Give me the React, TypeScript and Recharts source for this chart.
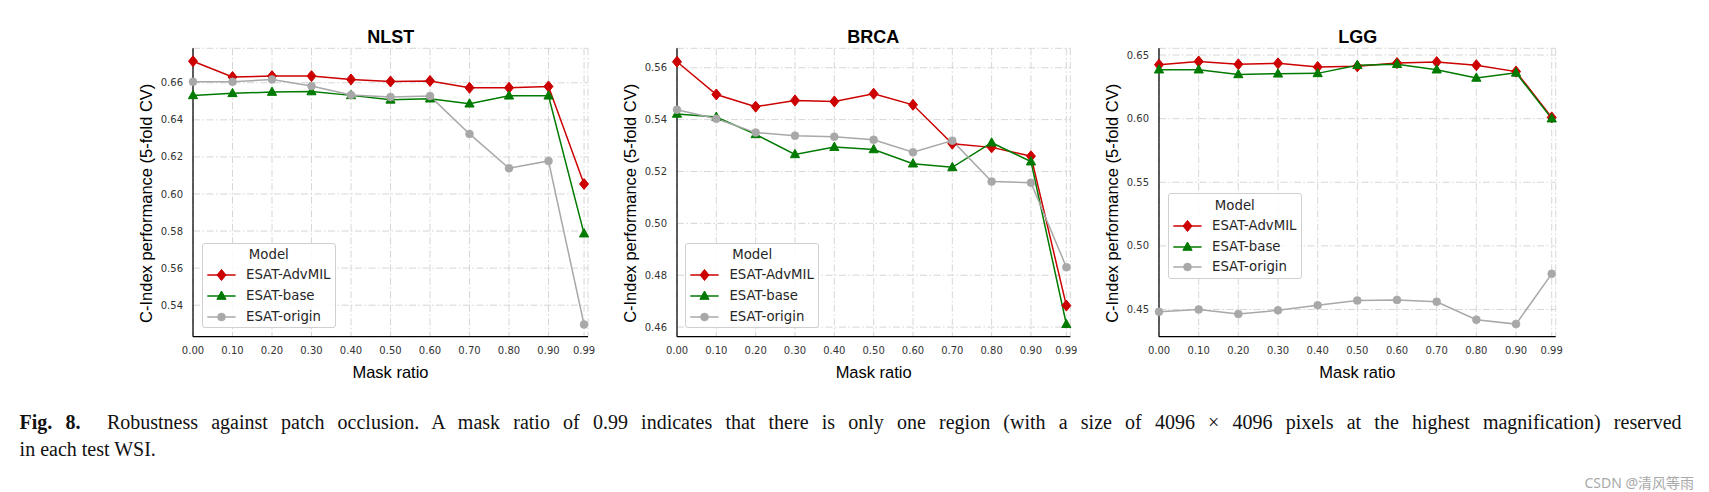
import { LineChart, Line, XAxis, YAxis, CartesianGrid } from 'recharts';

const MASK_RATIOS = [0, 0.1, 0.2, 0.3, 0.4, 0.5, 0.6, 0.7, 0.8, 0.9, 0.99];

const NLST_ADVMIL = [0.6716, 0.6631, 0.6636, 0.6636, 0.6618, 0.6607, 0.661, 0.6573, 0.6573, 0.658, 0.6054];
const NLST_BASE = [0.6532, 0.6543, 0.655, 0.6553, 0.6532, 0.6508, 0.6514, 0.6487, 0.653, 0.653, 0.5786];
const NLST_ORIGIN = [0.6605, 0.6605, 0.6618, 0.6582, 0.6534, 0.6523, 0.6528, 0.6324, 0.6139, 0.6178, 0.5296];
const NLST_TICKS = [0.54, 0.56, 0.58, 0.6, 0.62, 0.64, 0.66];

const BRCA_ADVMIL = [0.5623, 0.5497, 0.545, 0.5474, 0.547, 0.55, 0.5457, 0.5307, 0.5293, 0.5259, 0.4683];
const BRCA_BASE = [0.5422, 0.541, 0.5343, 0.5266, 0.5294, 0.5285, 0.523, 0.5216, 0.5311, 0.5238, 0.4611];
const BRCA_ORIGIN = [0.5438, 0.5403, 0.535, 0.5338, 0.5334, 0.5322, 0.5274, 0.5319, 0.5161, 0.5157, 0.4831];
const BRCA_TICKS = [0.46, 0.48, 0.5, 0.52, 0.54, 0.56];

const LGG_ADVMIL = [0.6424, 0.645, 0.6427, 0.6435, 0.6406, 0.6411, 0.6437, 0.6445, 0.642, 0.637, 0.601];
const LGG_BASE = [0.6385, 0.6385, 0.6348, 0.6353, 0.6356, 0.642, 0.6428, 0.6385, 0.632, 0.636, 0.6];
const LGG_ORIGIN = [0.4482, 0.45, 0.4464, 0.4493, 0.4533, 0.457, 0.4575, 0.4561, 0.442, 0.4385, 0.478];
const LGG_TICKS = [0.45, 0.5, 0.55, 0.6, 0.65];

const SERIES = [
  { key: 'advmil', name: 'ESAT-AdvMIL', color: '#cc0000', marker: 'diamond' },
  { key: 'base', name: 'ESAT-base', color: '#007a00', marker: 'triangle' },
  { key: 'origin', name: 'ESAT-origin', color: '#a8a8a8', marker: 'circle' },
];

const PANELS = [
  { title: 'NLST', plotLeft: 193.3, plotWidth: 395, domain: [0.523, 0.6786], ticks: NLST_TICKS, legendTop: 242.7,
    advmil: NLST_ADVMIL, base: NLST_BASE, origin: NLST_ORIGIN },
  { title: 'BRCA', plotLeft: 676.7, plotWidth: 393.3, domain: [0.4563, 0.5675], ticks: BRCA_TICKS, legendTop: 242.7,
    advmil: BRCA_ADVMIL, base: BRCA_BASE, origin: BRCA_ORIGIN },
  { title: 'LGG', plotLeft: 1159.3, plotWidth: 396.7, domain: [0.4286, 0.6553], ticks: LGG_TICKS, legendTop: 193.3,
    advmil: LGG_ADVMIL, base: LGG_BASE, origin: LGG_ORIGIN },
];

const PLOT_TOP = 48.3;
const PLOT_BOTTOM = 336.7;
const CHART_H = 400;
const PAD_L = 100;
const PAD_R = 10;
const Y_AXIS_W = 60;
const X_AXIS_H = 30;
const SANS = 'Liberation Sans, Arial, sans-serif';
const TICK_FONT = 'DejaVu Sans, sans-serif';

function Marker({ type, cx, cy, color }) {
  if (type === 'diamond') {
    return <path d={`M${cx},${cy - 5.5}L${cx + 4.5},${cy}L${cx},${cy + 5.5}L${cx - 4.5},${cy}Z`} fill={color} stroke={color} strokeWidth={1} />;
  }
  if (type === 'triangle') {
    return <path d={`M${cx},${cy - 5}L${cx + 4.6},${cy + 3.3}L${cx - 4.6},${cy + 3.3}Z`} fill={color} stroke={color} strokeWidth={1} />;
  }
  return <circle cx={cx} cy={cy} r={4} fill={color} stroke={color} strokeWidth={0.5} />;
}

function Legend({ left, top }) {
  return (
    <div style={{ position: 'absolute', left, top, width: 134.3, height: 85.6, boxSizing: 'border-box',
      border: '1px solid #d0d0d0', borderRadius: 3, background: 'rgba(255,255,255,0.85)',
      fontFamily: TICK_FONT, fontSize: 13.3, color: '#262626' }}>
      <div style={{ position: 'absolute', left: 0, width: '100%', top: 11.3 - 9, lineHeight: '18px', textAlign: 'center' }}>Model</div>
      {SERIES.map((s, i) => (
        <div key={s.key} style={{ position: 'absolute', left: 0, top: 31.6 + i * 20.7 - 9, height: 18, width: '100%' }}>
          <svg width={40} height={18} style={{ position: 'absolute', left: 0, top: 0 }}>
            <line x1={4.3} x2={32.6} y1={9} y2={9} stroke={s.color} strokeWidth={1.5} />
            <Marker type={s.marker} cx={18.5} cy={9} color={s.color} />
          </svg>
          <span style={{ position: 'absolute', left: 43.3, top: 0, lineHeight: '18px' }}>{s.name}</span>
        </div>
      ))}
    </div>
  );
}

function Panel({ p }) {
  const data = MASK_RATIOS.map((x, i) => ({ x, advmil: p.advmil[i], base: p.base[i], origin: p.origin[i] }));
  const chartLeft = p.plotLeft - PAD_L;
  const width = PAD_L + p.plotWidth + PAD_R;
  return (
    <div style={{ position: 'absolute', left: chartLeft, top: 0, width, height: CHART_H }}>
      <LineChart
        width={width}
        height={CHART_H}
        data={data}
        margin={{ top: PLOT_TOP, right: PAD_R, left: PAD_L - Y_AXIS_W, bottom: CHART_H - PLOT_BOTTOM - X_AXIS_H }}
      >
        <CartesianGrid stroke="#d6d6d6" strokeWidth={1} strokeDasharray="7 2.5 1.5 2.5" />
        <XAxis
          type="number"
          dataKey="x"
          domain={[0, 1]}
          ticks={MASK_RATIOS}
          interval={0}
          height={X_AXIS_H}
          tickFormatter={(v) => v.toFixed(2)}
          tickLine={false}
          tickSize={0}
          tickMargin={10}
          axisLine={{ stroke: '#000', strokeWidth: 1.25 }}
          tick={{ fontSize: 10, fill: '#333', fontFamily: TICK_FONT }}
          label={() => (
            <text x={PAD_L + p.plotWidth / 2} y={371.7} textAnchor="middle" dominantBaseline="central"
              fontFamily={SANS} fontSize={16.5} fill="#000">Mask ratio</text>
          )}
        />
        <YAxis
          type="number"
          domain={p.domain}
          ticks={p.ticks}
          allowDataOverflow
          width={Y_AXIS_W}
          tickFormatter={(v) => v.toFixed(2)}
          tickLine={false}
          tickSize={0}
          tickMargin={10}
          axisLine={{ stroke: '#000', strokeWidth: 1.25 }}
          tick={{ fontSize: 10, fill: '#333', fontFamily: TICK_FONT }}
          label={() => (
            <text x={PAD_L - 47} y={203.3} transform={`rotate(-90 ${PAD_L - 47} 203.3)`} textAnchor="middle"
              dominantBaseline="central" fontFamily={SANS} fontSize={16.5} fill="#000">C-Index performance (5-fold CV)</text>
          )}
        />
        {SERIES.map((s) => (
          <Line
            key={s.key}
            type="linear"
            dataKey={s.key}
            stroke={s.color}
            strokeWidth={1.5}
            isAnimationActive={false}
            dot={(props) => <Marker key={`${s.key}-${props.index}`} type={s.marker} cx={props.cx} cy={props.cy} color={s.color} />}
          />
        ))}
      </LineChart>
      <div style={{ position: 'absolute', left: PAD_L, width: p.plotWidth, top: 37.3 - 12, lineHeight: '24px',
        textAlign: 'center', fontFamily: SANS, fontWeight: 'bold', fontSize: 18, color: '#000' }}>{p.title}</div>
      <Legend left={PAD_L + 8.4} top={p.legendTop} />
    </div>
  );
}

export default function App() {
  const captionStyle = { position: 'absolute' as const, left: 19.6, width: 1662, fontFamily: 'Liberation Serif, serif',
    fontSize: 20, lineHeight: '28px', color: '#111', whiteSpace: 'nowrap' as const };
  return (
    <div style={{ position: 'absolute', left: 0, top: 0, width: 1709, height: 492, background: '#fff', overflow: 'hidden' }}>
      {PANELS.map((p) => (
        <Panel key={p.title} p={p} />
      ))}
      <div style={{ ...captionStyle, top: 421.7 - 14, whiteSpace: 'normal', textAlign: 'justify', textAlignLast: 'justify' }}>
        <b>Fig. 8.</b>&nbsp; Robustness against patch occlusion. A mask ratio of 0.99 indicates that there is only one region (with a size of 4096 × 4096 pixels at the highest magnification) reserved
      </div>
      <div style={{ ...captionStyle, top: 449 - 14 }}>in each test WSI.</div>
      <div style={{ position: 'absolute', right: 15, top: 483 - 8, lineHeight: '16px', whiteSpace: 'nowrap',
        fontFamily: 'Noto Sans, Noto Sans CJK SC, sans-serif', fontSize: 14, color: '#a9a9a9' }}>CSDN @清风等雨</div>
    </div>
  );
}
